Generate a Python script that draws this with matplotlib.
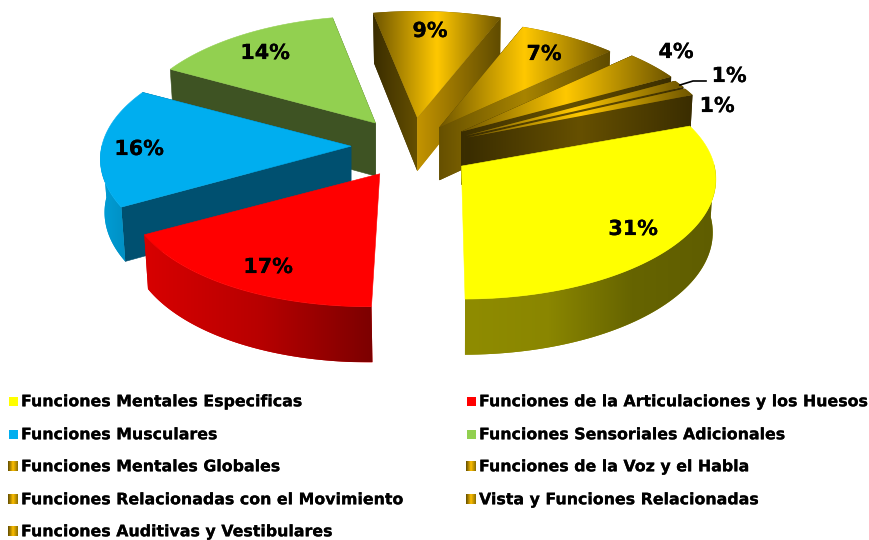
import numpy as np
import matplotlib
matplotlib.use('Agg')
from matplotlib import pyplot as plt
from matplotlib import patheffects
from matplotlib.colors import LinearSegmentedColormap
from matplotlib.patches import Polygon

# Data, clockwise from the first slice
categories = ['Funciones Mentales Especificas', 'Funciones de la Articulaciones y los Huesos',
              'Funciones Musculares', 'Funciones Sensoriales Adicionales',
              'Funciones Mentales Globales', 'Funciones de la Voz y el Habla',
              'Funciones Relacionadas con el Movimiento', 'Vista y Funciones Relacionadas',
              'Funciones Auditivas y Vestibulares']
values = [30.6, 17, 16, 14, 9, 7, 4, 1, 1]

# Layout, in pixels of the 869x540 picture
label_xy = [(633, 229), (268, 267), (139, 149), (265, 53), (430, 31), (544, 54), (676, 52), (729, 76), (717, 106)]
legend_x = [21, 479]
legend_y = [401, 434, 466, 499, 531]
start_angle = 20.5
cx, cy = 412, 150
ex, ey = 60, 31
rx, ry = 253, 118.6
persp = 0.108
depth = 53
# small shifts, width and front skew per slice, the picture is in perspective
nudge = [(0, -1.5), (-2, -3), (-1, -4), (-1, -2), (0, -1), (-6, 3), (1, 0), (0, 0), (0, 0)]
widen = [1, 1, 0.985, 0.97, 1, 1, 1, 1, 1]
skew = [0.015, -0.075, 0, 0, 0, 0, 0, 0, 0]
# the bottom of a wall leans to the middle of the picture
lean = 0.012
mid_x = 452
# back slices are painted first
paint_order = [3, 4, 5, 6, 7, 8, 2, 1, 0]

GOLD_TOP = ['#6e5500', '#ffc800', '#6e5500']
GOLD_WALL = ['#3a2d00', '#665000', '#3a2d00']
# cut1 is the face at the start of the slice (clockwise), cut2 the one at its end
styles = [
    dict(top=['#ffff00'], wall=['#8f8c00', '#8a8600', '#666400', '#5f5d00'], cut1=None, cut2=None),
    dict(top=['#ff0000'], wall=['#d80000', '#b80000', '#7c0000'], cut1=None, cut2=None),
    dict(top=['#00aeef'], wall=['#009fd8', '#0090c4'], cut1=['#005070'], cut2=['#005070']),
    dict(top=['#92d050'], wall=['#3e5323'], cut1=['#3e5323'], cut2=['#3e5323']),
    dict(top=GOLD_TOP, wall=GOLD_WALL, cut1=['#3a2d00', '#665000'], cut2=['#c49400', '#5f4b00']),
    dict(top=GOLD_TOP, wall=GOLD_WALL, cut1=['#665000', '#5f4b00'], cut2=['#665000', '#a88400', '#5f4b00']),
    dict(top=GOLD_TOP, wall=GOLD_WALL, cut1=GOLD_WALL, cut2=GOLD_WALL),
    dict(top=GOLD_TOP, wall=GOLD_WALL, cut1=GOLD_WALL, cut2=GOLD_WALL),
    dict(top=GOLD_TOP, wall=GOLD_WALL, cut1=GOLD_WALL, cut2=GOLD_WALL),
]
swatches = ['#ffff00', '#ff0000', '#00aeef', '#92d050'] + [['#5f4b00', '#ffc000', '#8a6d00']] * 5
heavy = [patheffects.withStroke(linewidth=0.12, foreground='black')]

fig = plt.figure(figsize=(8.69, 5.4), dpi=100)
ax = fig.add_axes([0, 0, 1, 1])
ax.set_axis_off()
z = [1]


def rim(angles):
    s, c = np.sin(angles), np.cos(angles)
    den = 1 + persp * s
    return rx * c / den, -ry * s / den, depth * (1 - 0.05 * s)


def fill(xs, ys, colors):
    z[0] += 1
    poly = Polygon(np.column_stack([xs, ys]), closed=True, lw=0.4, zorder=z[0],
                   fc=colors[0], ec=colors[0] if len(colors) == 1 else 'none')
    ax.add_patch(poly)
    if len(colors) > 1:
        cmap = LinearSegmentedColormap.from_list('g', colors)
        im = ax.imshow(np.linspace(0, 1, 256)[None, :], cmap=cmap, aspect='auto', zorder=z[0],
                       extent=[min(xs), max(xs), max(ys), min(ys)], interpolation='bilinear')
        im.set_clip_path(poly)


def lower(x):
    return x + (mid_x - x) * lean


edges = start_angle - np.cumsum([0] + values) * 3.6
for i in paint_order:
    t0, t1 = np.radians(edges[i]), np.radians(edges[i + 1])
    mid = (t0 + t1) / 2
    ax0 = cx + ex * np.cos(mid) + nudge[i][0]
    ay0 = cy - ey * np.sin(mid) + nudge[i][1]
    st = styles[i]
    t = np.linspace(t0, t1, 80)
    x, y, d = rim(t)
    x = x * widen[i] + skew[i] * y * np.maximum(0, -np.sin(t)) + ax0
    y = y + ay0
    # two cut faces
    if st['cut1']:
        fill([ax0, x[0], lower(x[0]), ax0], [ay0, y[0], y[0] + d[0], ay0 + depth], st['cut1'])
    if st['cut2']:
        fill([ax0, x[-1], lower(x[-1]), ax0], [ay0, y[-1], y[-1] + d[-1], ay0 + depth], st['cut2'])
    # outer wall only on the front part, then the top
    front = np.sin(t) <= 0.02
    if front.sum() > 1:
        fill(np.r_[x[front], lower(x[front])[::-1]], np.r_[y[front], (y + d)[front][::-1]], st['wall'])
    fill(np.r_[ax0, x], np.r_[ay0, y], st['top'])

for v, (lx, ly) in zip(values, label_xy):
    ax.text(lx, ly, f'{v:.0f}%', ha='center', va='center', fontsize=14.9, fontweight='bold',
            family='DejaVu Sans', color='black', zorder=100, path_effects=heavy)
ax.plot([680, 693, 706], [85, 81, 81], color='black', lw=1.2, zorder=100)

for i, name in enumerate(categories):
    lx = legend_x[i % 2]
    ly = legend_y[i // 2]
    sw = swatches[i]
    if isinstance(sw, str):
        ax.fill([lx - 12, lx - 3, lx - 3, lx - 12], [ly - 4.5, ly - 4.5, ly + 4.5, ly + 4.5], color=sw, lw=0, zorder=100)
    else:
        fill([lx - 13, lx - 3, lx - 3, lx - 13], [ly - 5, ly - 5, ly + 5, ly + 5], sw)
    ax.text(lx, ly + 0.8, name, ha='left', va='center', fontsize=11.4, fontweight='bold',
            family='DejaVu Sans', color='black', zorder=100, path_effects=heavy)

ax.set_xlim(0, 869)
ax.set_ylim(540, 0)
fig.savefig('out.png', dpi=100, facecolor='white')
